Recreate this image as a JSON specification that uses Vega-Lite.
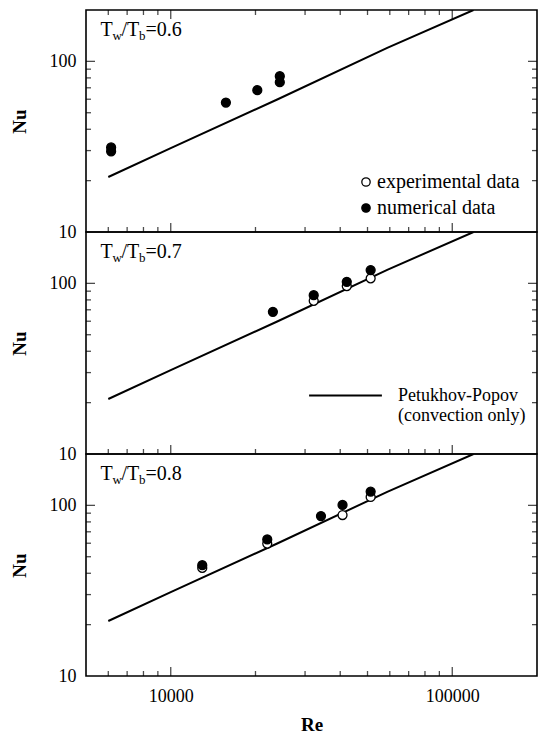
{
  "$schema": "https://vega.github.io/schema/vega-lite/v6.json",
  "padding": {"left": 9, "top": 9, "right": 0, "bottom": 0},
  "background": "white",
  "spacing": 0,
  "bounds": "flush",
  "config": {
    "font": "Liberation Serif",
    "view": {"stroke": "black", "strokeWidth": 1.6},
    "axis": {
      "domain": false, "ticks": false, "tickSize": 0,
      "labelFont": "Liberation Serif", "labelFontSize": 18, "labelColor": "black",
      "grid": false, "labelOverlap": false, "labelFlush": false,
      "titleFont": "Liberation Serif", "titleFontWeight": "bold", "titleFontSize": 19, "titleColor": "black"
    },
    "legend": {"labelFont": "Liberation Serif", "labelFontSize": 19, "labelColor": "black", "padding": 0}
  },
  "datasets": {
    "points": [
      {"panel": "0.6", "type": "numerical data", "Re": 6140, "Nu": 31.3},
      {"panel": "0.6", "type": "numerical data", "Re": 6140, "Nu": 29.7},
      {"panel": "0.6", "type": "numerical data", "Re": 15700, "Nu": 57.4},
      {"panel": "0.6", "type": "numerical data", "Re": 20300, "Nu": 67.8},
      {"panel": "0.6", "type": "numerical data", "Re": 24400, "Nu": 81.9},
      {"panel": "0.6", "type": "numerical data", "Re": 24400, "Nu": 75.5},
      {"panel": "0.7", "type": "experimental data", "Re": 32200, "Nu": 79.0},
      {"panel": "0.7", "type": "experimental data", "Re": 42200, "Nu": 96.4},
      {"panel": "0.7", "type": "experimental data", "Re": 51300, "Nu": 107},
      {"panel": "0.7", "type": "numerical data", "Re": 23060, "Nu": 68.1},
      {"panel": "0.7", "type": "numerical data", "Re": 32200, "Nu": 85.3},
      {"panel": "0.7", "type": "numerical data", "Re": 42200, "Nu": 102.2},
      {"panel": "0.7", "type": "numerical data", "Re": 51300, "Nu": 119.7},
      {"panel": "0.8", "type": "experimental data", "Re": 12940, "Nu": 43.0},
      {"panel": "0.8", "type": "experimental data", "Re": 22020, "Nu": 59.7},
      {"panel": "0.8", "type": "experimental data", "Re": 40760, "Nu": 87.8},
      {"panel": "0.8", "type": "experimental data", "Re": 51300, "Nu": 112},
      {"panel": "0.8", "type": "numerical data", "Re": 12940, "Nu": 44.6},
      {"panel": "0.8", "type": "numerical data", "Re": 22020, "Nu": 63.1},
      {"panel": "0.8", "type": "numerical data", "Re": 34170, "Nu": 86.6},
      {"panel": "0.8", "type": "numerical data", "Re": 40760, "Nu": 100.5},
      {"panel": "0.8", "type": "numerical data", "Re": 51300, "Nu": 120.4}
    ],
    "curve": [
      {"model": "Petukhov-Popov", "Re": 6000, "Nu": 21},
      {"model": "Petukhov-Popov", "Re": 10000, "Nu": 31},
      {"model": "Petukhov-Popov", "Re": 24000, "Nu": 60},
      {"model": "Petukhov-Popov", "Re": 58750, "Nu": 120},
      {"model": "Petukhov-Popov", "Re": 119000, "Nu": 200}
    ],
    "xticks": [
      {"Re": 6000, "major": false}, {"Re": 7000, "major": false}, {"Re": 8000, "major": false}, {"Re": 9000, "major": false},
      {"Re": 10000, "major": true}, {"Re": 20000, "major": false}, {"Re": 30000, "major": false}, {"Re": 40000, "major": false},
      {"Re": 50000, "major": false}, {"Re": 60000, "major": false}, {"Re": 70000, "major": false}, {"Re": 80000, "major": false},
      {"Re": 90000, "major": false}, {"Re": 100000, "major": true}
    ],
    "yticks": [
      {"Nu": 20, "major": false}, {"Nu": 30, "major": false}, {"Nu": 40, "major": false}, {"Nu": 50, "major": false},
      {"Nu": 60, "major": false}, {"Nu": 70, "major": false}, {"Nu": 80, "major": false}, {"Nu": 90, "major": false},
      {"Nu": 100, "major": true}
    ],
    "panels": [
      {"panel": "0.6", "ratio": "=0.6"},
      {"panel": "0.7", "ratio": "=0.7"},
      {"panel": "0.8", "ratio": "=0.8"}
    ]
  },
  "resolve": {"legend": {"fill": "independent", "stroke": "independent"}},
  "vconcat": [
    {
      "width": 451, "height": 222,
      "resolve": {"axis": {"x": "independent", "y": "independent"}},
      "layer": [
        {
          "data": {"name": "curve"},
          "mark": {"type": "line", "strokeWidth": 2, "clip": true},
          "encoding": {
            "x": {"field": "Re", "type": "quantitative", "scale": {"type": "log", "domain": [5000, 200000], "nice": false}, "axis": null},
            "y": {"field": "Nu", "type": "quantitative", "scale": {"type": "log", "domain": [10, 200], "nice": false},
              "axis": {"orient": "left", "title": "Nu", "titlePadding": 20, "labelPadding": 10, "values": [10, 100]}},
            "stroke": {"field": "model", "type": "nominal", "scale": {"range": ["black"]}, "legend": null}
          }
        },
        {
          "data": {"name": "xticks"},
          "mark": {"type": "tick", "orient": "vertical", "clip": true, "color": "black", "thickness": 1.3},
          "encoding": {
            "x": {"field": "Re", "type": "quantitative", "scale": {"type": "log"}, "axis": null},
            "y": {"datum": 10, "type": "quantitative", "scale": {"type": "log"}, "axis": null},
            "size": {"condition": {"test": "datum.major", "value": 18}, "value": 10}
          }
        },
        {
          "data": {"name": "xticks"},
          "mark": {"type": "tick", "orient": "vertical", "clip": true, "color": "black", "thickness": 1.3},
          "encoding": {
            "x": {"field": "Re", "type": "quantitative", "scale": {"type": "log"}, "axis": null},
            "y": {"datum": 200, "type": "quantitative", "scale": {"type": "log"}, "axis": null},
            "size": {"condition": {"test": "datum.major", "value": 18}, "value": 10}
          }
        },
        {
          "data": {"name": "yticks"},
          "mark": {"type": "tick", "orient": "horizontal", "clip": true, "color": "black", "thickness": 1.3},
          "encoding": {
            "y": {"field": "Nu", "type": "quantitative", "scale": {"type": "log"}, "axis": null},
            "x": {"datum": 5000, "type": "quantitative", "scale": {"type": "log"}, "axis": null},
            "size": {"condition": {"test": "datum.major", "value": 18}, "value": 10}
          }
        },
        {
          "data": {"name": "yticks"},
          "mark": {"type": "tick", "orient": "horizontal", "clip": true, "color": "black", "thickness": 1.3},
          "encoding": {
            "y": {"field": "Nu", "type": "quantitative", "scale": {"type": "log"}, "axis": null},
            "x": {"datum": 200000, "type": "quantitative", "scale": {"type": "log"}, "axis": null},
            "size": {"condition": {"test": "datum.major", "value": 18}, "value": 10}
          }
        },
        {
          "data": {"name": "points"},
          "transform": [{"filter": "datum.panel == '0.6'"}],
          "mark": {"type": "point", "shape": "circle", "filled": true, "stroke": "black", "strokeWidth": 1.3, "size": 80, "opacity": 1},
          "encoding": {
            "x": {"field": "Re", "type": "quantitative", "scale": {"type": "log"}, "axis": null},
            "y": {"field": "Nu", "type": "quantitative", "scale": {"type": "log"}, "axis": null},
            "fill": {"field": "type", "type": "nominal", "scale": {"domain": ["experimental data", "numerical data"], "range": ["white", "black"]},
              "legend": {"title": null, "orient": "none", "legendX": 270, "legendY": 162, "symbolType": "circle", "symbolSize": 70,
                "symbolStrokeColor": "black", "symbolStrokeWidth": 1.3, "labelOffset": 1, "rowPadding": 6, "labelFontSize": 20}}
          }
        },
        {
          "data": {"name": "panels"},
          "transform": [{"filter": "datum.panel == '0.6'"}],
          "mark": {"type": "text", "text": "T", "fontSize": 20, "align": "left", "baseline": "alphabetic", "font": "Liberation Serif"},
          "encoding": {"x": {"datum": 5630, "type": "quantitative", "scale": {"type": "log"}, "axis": null}, "y": {"datum": 140, "type": "quantitative", "scale": {"type": "log"}, "axis": null}}
        },
        {
          "data": {"name": "panels"},
          "transform": [{"filter": "datum.panel == '0.6'"}],
          "mark": {"type": "text", "text": "w", "fontSize": 13, "align": "left", "baseline": "alphabetic", "dx": 12, "dy": 4, "font": "Liberation Serif"},
          "encoding": {"x": {"datum": 5630, "type": "quantitative", "scale": {"type": "log"}, "axis": null}, "y": {"datum": 140, "type": "quantitative", "scale": {"type": "log"}, "axis": null}}
        },
        {
          "data": {"name": "panels"},
          "transform": [{"filter": "datum.panel == '0.6'"}],
          "mark": {"type": "text", "text": "/T", "fontSize": 20, "align": "left", "baseline": "alphabetic", "dx": 21, "font": "Liberation Serif"},
          "encoding": {"x": {"datum": 5630, "type": "quantitative", "scale": {"type": "log"}, "axis": null}, "y": {"datum": 140, "type": "quantitative", "scale": {"type": "log"}, "axis": null}}
        },
        {
          "data": {"name": "panels"},
          "transform": [{"filter": "datum.panel == '0.6'"}],
          "mark": {"type": "text", "text": "b", "fontSize": 13, "align": "left", "baseline": "alphabetic", "dx": 38.5, "dy": 4, "font": "Liberation Serif"},
          "encoding": {"x": {"datum": 5630, "type": "quantitative", "scale": {"type": "log"}, "axis": null}, "y": {"datum": 140, "type": "quantitative", "scale": {"type": "log"}, "axis": null}}
        },
        {
          "data": {"name": "panels"},
          "transform": [{"filter": "datum.panel == '0.6'"}],
          "mark": {"type": "text", "fontSize": 20, "align": "left", "baseline": "alphabetic", "dx": 45, "font": "Liberation Serif"},
          "encoding": {"text": {"field": "ratio"}, "x": {"datum": 5630, "type": "quantitative", "scale": {"type": "log"}, "axis": null}, "y": {"datum": 140, "type": "quantitative", "scale": {"type": "log"}, "axis": null}}
        }
      ]
    },
    {
      "width": 451, "height": 222,
      "resolve": {"axis": {"x": "independent", "y": "independent"}},
      "layer": [
        {
          "data": {"name": "curve"},
          "mark": {"type": "line", "strokeWidth": 2, "clip": true},
          "encoding": {
            "x": {"field": "Re", "type": "quantitative", "scale": {"type": "log", "domain": [5000, 200000], "nice": false}, "axis": null},
            "y": {"field": "Nu", "type": "quantitative", "scale": {"type": "log", "domain": [10, 200], "nice": false},
              "axis": {"orient": "left", "title": "Nu", "titlePadding": 20, "labelPadding": 10, "values": [10, 100]}},
            "stroke": {"field": "model", "type": "nominal", "scale": {"range": ["black"]},
              "legend": {"title": null, "orient": "none", "legendX": 222, "legendY": 126, "symbolType": "stroke", "symbolSize": 5300,
                "symbolStrokeWidth": 2, "labelOffset": 15, "labelFontSize": 18, "labelExpr": "['Petukhov-Popov', '(convection only)']"}}
          }
        },
        {
          "data": {"name": "xticks"},
          "mark": {"type": "tick", "orient": "vertical", "clip": true, "color": "black", "thickness": 1.3},
          "encoding": {
            "x": {"field": "Re", "type": "quantitative", "scale": {"type": "log"}, "axis": null},
            "y": {"datum": 10, "type": "quantitative", "scale": {"type": "log"}, "axis": null},
            "size": {"condition": {"test": "datum.major", "value": 18}, "value": 10}
          }
        },
        {
          "data": {"name": "yticks"},
          "mark": {"type": "tick", "orient": "horizontal", "clip": true, "color": "black", "thickness": 1.3},
          "encoding": {
            "y": {"field": "Nu", "type": "quantitative", "scale": {"type": "log"}, "axis": null},
            "x": {"datum": 5000, "type": "quantitative", "scale": {"type": "log"}, "axis": null},
            "size": {"condition": {"test": "datum.major", "value": 18}, "value": 10}
          }
        },
        {
          "data": {"name": "yticks"},
          "mark": {"type": "tick", "orient": "horizontal", "clip": true, "color": "black", "thickness": 1.3},
          "encoding": {
            "y": {"field": "Nu", "type": "quantitative", "scale": {"type": "log"}, "axis": null},
            "x": {"datum": 200000, "type": "quantitative", "scale": {"type": "log"}, "axis": null},
            "size": {"condition": {"test": "datum.major", "value": 18}, "value": 10}
          }
        },
        {
          "data": {"name": "points"},
          "transform": [{"filter": "datum.panel == '0.7'"}],
          "mark": {"type": "point", "shape": "circle", "filled": true, "stroke": "black", "strokeWidth": 1.3, "size": 80, "opacity": 1},
          "encoding": {
            "x": {"field": "Re", "type": "quantitative", "scale": {"type": "log"}, "axis": null},
            "y": {"field": "Nu", "type": "quantitative", "scale": {"type": "log"}, "axis": null},
            "fill": {"field": "type", "type": "nominal", "scale": {"domain": ["experimental data", "numerical data"], "range": ["white", "black"]}, "legend": null}
          }
        },
        {
          "data": {"name": "panels"},
          "transform": [{"filter": "datum.panel == '0.7'"}],
          "mark": {"type": "text", "text": "T", "fontSize": 20, "align": "left", "baseline": "alphabetic", "font": "Liberation Serif"},
          "encoding": {"x": {"datum": 5630, "type": "quantitative", "scale": {"type": "log"}, "axis": null}, "y": {"datum": 140, "type": "quantitative", "scale": {"type": "log"}, "axis": null}}
        },
        {
          "data": {"name": "panels"},
          "transform": [{"filter": "datum.panel == '0.7'"}],
          "mark": {"type": "text", "text": "w", "fontSize": 13, "align": "left", "baseline": "alphabetic", "dx": 12, "dy": 4, "font": "Liberation Serif"},
          "encoding": {"x": {"datum": 5630, "type": "quantitative", "scale": {"type": "log"}, "axis": null}, "y": {"datum": 140, "type": "quantitative", "scale": {"type": "log"}, "axis": null}}
        },
        {
          "data": {"name": "panels"},
          "transform": [{"filter": "datum.panel == '0.7'"}],
          "mark": {"type": "text", "text": "/T", "fontSize": 20, "align": "left", "baseline": "alphabetic", "dx": 21, "font": "Liberation Serif"},
          "encoding": {"x": {"datum": 5630, "type": "quantitative", "scale": {"type": "log"}, "axis": null}, "y": {"datum": 140, "type": "quantitative", "scale": {"type": "log"}, "axis": null}}
        },
        {
          "data": {"name": "panels"},
          "transform": [{"filter": "datum.panel == '0.7'"}],
          "mark": {"type": "text", "text": "b", "fontSize": 13, "align": "left", "baseline": "alphabetic", "dx": 38.5, "dy": 4, "font": "Liberation Serif"},
          "encoding": {"x": {"datum": 5630, "type": "quantitative", "scale": {"type": "log"}, "axis": null}, "y": {"datum": 140, "type": "quantitative", "scale": {"type": "log"}, "axis": null}}
        },
        {
          "data": {"name": "panels"},
          "transform": [{"filter": "datum.panel == '0.7'"}],
          "mark": {"type": "text", "fontSize": 20, "align": "left", "baseline": "alphabetic", "dx": 45, "font": "Liberation Serif"},
          "encoding": {"text": {"field": "ratio"}, "x": {"datum": 5630, "type": "quantitative", "scale": {"type": "log"}, "axis": null}, "y": {"datum": 140, "type": "quantitative", "scale": {"type": "log"}, "axis": null}}
        }
      ]
    },
    {
      "width": 451, "height": 222,
      "resolve": {"axis": {"x": "independent", "y": "independent"}},
      "layer": [
        {
          "data": {"name": "curve"},
          "mark": {"type": "line", "strokeWidth": 2, "clip": true},
          "encoding": {
            "x": {"field": "Re", "type": "quantitative", "scale": {"type": "log", "domain": [5000, 200000], "nice": false},
              "axis": {"orient": "bottom", "title": "Re", "titlePadding": 10, "labelPadding": 11, "values": [10000, 100000], "format": "d"}},
            "y": {"field": "Nu", "type": "quantitative", "scale": {"type": "log", "domain": [10, 200], "nice": false},
              "axis": {"orient": "left", "title": "Nu", "titlePadding": 20, "labelPadding": 10, "values": [10, 100]}},
            "stroke": {"field": "model", "type": "nominal", "scale": {"range": ["black"]}, "legend": null}
          }
        },
        {
          "data": {"name": "xticks"},
          "mark": {"type": "tick", "orient": "vertical", "clip": true, "color": "black", "thickness": 1.3},
          "encoding": {
            "x": {"field": "Re", "type": "quantitative", "scale": {"type": "log"}, "axis": null},
            "y": {"datum": 10, "type": "quantitative", "scale": {"type": "log"}, "axis": null},
            "size": {"condition": {"test": "datum.major", "value": 18}, "value": 10}
          }
        },
        {
          "data": {"name": "yticks"},
          "mark": {"type": "tick", "orient": "horizontal", "clip": true, "color": "black", "thickness": 1.3},
          "encoding": {
            "y": {"field": "Nu", "type": "quantitative", "scale": {"type": "log"}, "axis": null},
            "x": {"datum": 5000, "type": "quantitative", "scale": {"type": "log"}, "axis": null},
            "size": {"condition": {"test": "datum.major", "value": 18}, "value": 10}
          }
        },
        {
          "data": {"name": "yticks"},
          "mark": {"type": "tick", "orient": "horizontal", "clip": true, "color": "black", "thickness": 1.3},
          "encoding": {
            "y": {"field": "Nu", "type": "quantitative", "scale": {"type": "log"}, "axis": null},
            "x": {"datum": 200000, "type": "quantitative", "scale": {"type": "log"}, "axis": null},
            "size": {"condition": {"test": "datum.major", "value": 18}, "value": 10}
          }
        },
        {
          "data": {"name": "points"},
          "transform": [{"filter": "datum.panel == '0.8'"}],
          "mark": {"type": "point", "shape": "circle", "filled": true, "stroke": "black", "strokeWidth": 1.3, "size": 80, "opacity": 1},
          "encoding": {
            "x": {"field": "Re", "type": "quantitative", "scale": {"type": "log"}, "axis": null},
            "y": {"field": "Nu", "type": "quantitative", "scale": {"type": "log"}, "axis": null},
            "fill": {"field": "type", "type": "nominal", "scale": {"domain": ["experimental data", "numerical data"], "range": ["white", "black"]}, "legend": null}
          }
        },
        {
          "data": {"name": "panels"},
          "transform": [{"filter": "datum.panel == '0.8'"}],
          "mark": {"type": "text", "text": "T", "fontSize": 20, "align": "left", "baseline": "alphabetic", "font": "Liberation Serif"},
          "encoding": {"x": {"datum": 5630, "type": "quantitative", "scale": {"type": "log"}, "axis": null}, "y": {"datum": 140, "type": "quantitative", "scale": {"type": "log"}, "axis": null}}
        },
        {
          "data": {"name": "panels"},
          "transform": [{"filter": "datum.panel == '0.8'"}],
          "mark": {"type": "text", "text": "w", "fontSize": 13, "align": "left", "baseline": "alphabetic", "dx": 12, "dy": 4, "font": "Liberation Serif"},
          "encoding": {"x": {"datum": 5630, "type": "quantitative", "scale": {"type": "log"}, "axis": null}, "y": {"datum": 140, "type": "quantitative", "scale": {"type": "log"}, "axis": null}}
        },
        {
          "data": {"name": "panels"},
          "transform": [{"filter": "datum.panel == '0.8'"}],
          "mark": {"type": "text", "text": "/T", "fontSize": 20, "align": "left", "baseline": "alphabetic", "dx": 21, "font": "Liberation Serif"},
          "encoding": {"x": {"datum": 5630, "type": "quantitative", "scale": {"type": "log"}, "axis": null}, "y": {"datum": 140, "type": "quantitative", "scale": {"type": "log"}, "axis": null}}
        },
        {
          "data": {"name": "panels"},
          "transform": [{"filter": "datum.panel == '0.8'"}],
          "mark": {"type": "text", "text": "b", "fontSize": 13, "align": "left", "baseline": "alphabetic", "dx": 38.5, "dy": 4, "font": "Liberation Serif"},
          "encoding": {"x": {"datum": 5630, "type": "quantitative", "scale": {"type": "log"}, "axis": null}, "y": {"datum": 140, "type": "quantitative", "scale": {"type": "log"}, "axis": null}}
        },
        {
          "data": {"name": "panels"},
          "transform": [{"filter": "datum.panel == '0.8'"}],
          "mark": {"type": "text", "fontSize": 20, "align": "left", "baseline": "alphabetic", "dx": 45, "font": "Liberation Serif"},
          "encoding": {"text": {"field": "ratio"}, "x": {"datum": 5630, "type": "quantitative", "scale": {"type": "log"}, "axis": null}, "y": {"datum": 140, "type": "quantitative", "scale": {"type": "log"}, "axis": null}}
        }
      ]
    }
  ]
}
